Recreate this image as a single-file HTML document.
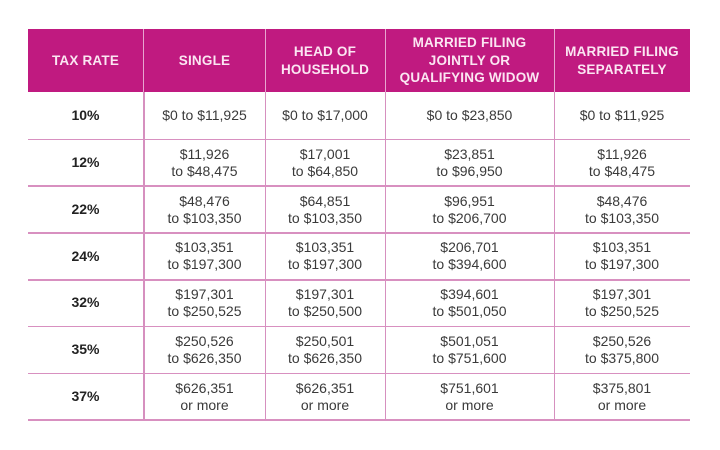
<!DOCTYPE html>
<html><head><meta charset="utf-8"><style>
*{margin:0;padding:0;box-sizing:border-box}
html,body{width:720px;height:450px;background:#fff;overflow:hidden}
body{position:relative;font-family:"Liberation Sans",sans-serif}
.hdr{position:absolute;left:28px;top:29px;width:662px;height:63px;background:#c01a80}
.hc{position:absolute;top:29px;height:63px;display:flex;align-items:center;justify-content:center;text-align:center;color:#fbe6f2;font-weight:bold;font-size:13.5px;line-height:17.5px;letter-spacing:0.2px}
.vh{position:absolute;top:29px;height:63px;width:1px;background:#e7a6cf}
.vl{position:absolute;top:92px;height:328px;width:1.5px;background:#d690bf}
.hl{position:absolute;left:28px;width:662px;height:1.5px;background:#d890c0}
.c{position:absolute;display:flex;align-items:center;justify-content:center;text-align:center;color:#3a3a3a;font-size:14px;line-height:17px}
.c.b{font-weight:bold;color:#222}
</style></head><body>
<div class="hdr"></div>
<div class="hc" style="left:28px;width:115px">TAX RATE</div>
<div class="hc" style="left:144px;width:121px">SINGLE</div>
<div class="hc" style="left:265px;width:120px">HEAD OF<br>HOUSEHOLD</div>
<div class="hc" style="left:385px;width:169px">MARRIED FILING<br>JOINTLY OR<br>QUALIFYING WIDOW</div>
<div class="hc" style="left:554px;width:136px">MARRIED FILING<br>SEPARATELY</div>
<div class="vh" style="left:143px"></div>
<div class="vh" style="left:265px"></div>
<div class="vh" style="left:385px"></div>
<div class="vh" style="left:554px"></div>

<div class="vl" style="left:143px"></div>
<div class="vl" style="left:264.5px"></div>
<div class="vl" style="left:384.5px"></div>
<div class="vl" style="left:553.5px"></div>

<div class="hl" style="top:138.5px"></div>
<div class="hl" style="top:185.3px"></div>
<div class="hl" style="top:232.1px"></div>
<div class="hl" style="top:279px"></div>
<div class="hl" style="top:325.8px"></div>
<div class="hl" style="top:372.6px"></div>
<div class="hl" style="top:419.4px"></div>

<!-- row 1 -->
<div class="c b" style="left:28px;width:115px;top:92px;height:47px">10%</div>
<div class="c" style="left:144px;width:121px;top:92px;height:47px">$0 to $11,925</div>
<div class="c" style="left:265px;width:120px;top:92px;height:47px">$0 to $17,000</div>
<div class="c" style="left:385px;width:169px;top:92px;height:47px">$0 to $23,850</div>
<div class="c" style="left:554px;width:136px;top:92px;height:47px">$0 to $11,925</div>
<!-- row 2 -->
<div class="c b" style="left:28px;width:115px;top:139px;height:47px">12%</div>
<div class="c" style="left:144px;width:121px;top:139px;height:47px">$11,926<br>to $48,475</div>
<div class="c" style="left:265px;width:120px;top:139px;height:47px">$17,001<br>to $64,850</div>
<div class="c" style="left:385px;width:169px;top:139px;height:47px">$23,851<br>to $96,950</div>
<div class="c" style="left:554px;width:136px;top:139px;height:47px">$11,926<br>to $48,475</div>
<!-- row 3 -->
<div class="c b" style="left:28px;width:115px;top:186px;height:47px">22%</div>
<div class="c" style="left:144px;width:121px;top:186px;height:47px">$48,476<br>to $103,350</div>
<div class="c" style="left:265px;width:120px;top:186px;height:47px">$64,851<br>to $103,350</div>
<div class="c" style="left:385px;width:169px;top:186px;height:47px">$96,951<br>to $206,700</div>
<div class="c" style="left:554px;width:136px;top:186px;height:47px">$48,476<br>to $103,350</div>
<!-- row 4 -->
<div class="c b" style="left:28px;width:115px;top:232.5px;height:47px">24%</div>
<div class="c" style="left:144px;width:121px;top:232.5px;height:47px">$103,351<br>to $197,300</div>
<div class="c" style="left:265px;width:120px;top:232.5px;height:47px">$103,351<br>to $197,300</div>
<div class="c" style="left:385px;width:169px;top:232.5px;height:47px">$206,701<br>to $394,600</div>
<div class="c" style="left:554px;width:136px;top:232.5px;height:47px">$103,351<br>to $197,300</div>
<!-- row 5 -->
<div class="c b" style="left:28px;width:115px;top:279px;height:47px">32%</div>
<div class="c" style="left:144px;width:121px;top:279px;height:47px">$197,301<br>to $250,525</div>
<div class="c" style="left:265px;width:120px;top:279px;height:47px">$197,301<br>to $250,500</div>
<div class="c" style="left:385px;width:169px;top:279px;height:47px">$394,601<br>to $501,050</div>
<div class="c" style="left:554px;width:136px;top:279px;height:47px">$197,301<br>to $250,525</div>
<!-- row 6 -->
<div class="c b" style="left:28px;width:115px;top:326px;height:47px">35%</div>
<div class="c" style="left:144px;width:121px;top:326px;height:47px">$250,526<br>to $626,350</div>
<div class="c" style="left:265px;width:120px;top:326px;height:47px">$250,501<br>to $626,350</div>
<div class="c" style="left:385px;width:169px;top:326px;height:47px">$501,051<br>to $751,600</div>
<div class="c" style="left:554px;width:136px;top:326px;height:47px">$250,526<br>to $375,800</div>
<!-- row 7 -->
<div class="c b" style="left:28px;width:115px;top:373px;height:47px">37%</div>
<div class="c" style="left:144px;width:121px;top:373px;height:47px">$626,351<br>or more</div>
<div class="c" style="left:265px;width:120px;top:373px;height:47px">$626,351<br>or more</div>
<div class="c" style="left:385px;width:169px;top:373px;height:47px">$751,601<br>or more</div>
<div class="c" style="left:554px;width:136px;top:373px;height:47px">$375,801<br>or more</div>
</body></html>
